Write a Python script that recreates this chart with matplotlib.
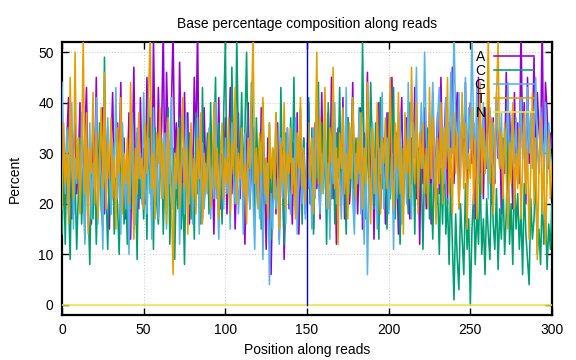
import matplotlib
matplotlib.use("Agg")
import matplotlib.pyplot as plt
import numpy as np

A_pct = [38, 27, 19, 33, 41, 24, 17, 30, 36, 22,
         28, 40, 18, 25, 34, 43, 21, 29, 16, 37,
         26, 45, 20, 31, 23, 39, 18, 27, 35, 15,
         30, 42, 24, 19, 36, 28, 44, 21, 33, 17,
         25, 38, 13, 29, 47, 22, 34, 19, 41, 26,
         31, 20, 45, 27, 37, 18, 53, 30, 24, 43,
         28, 35, 55, 21, 46, 33, 25, 40, 54, 29,
         36, 22, 48, 31, 19, 42, 27, 38, 16, 33,
         24, 45, 30, 55, 21, 34, 17, 39, 26, 31,
         20, 36, 28, 14, 33, 25, 41, 19, 30, 23,
         37, 18, 29, 43, 22, 32, 15, 27, 38, 21,
         34, 26, 12, 31, 40, 19, 28, 35, 17, 25,
         30, 22, 39, 16, 27, 11, 33, 20, 6, 24,
         29, 18, 36, 13, 26, 31, 9, 23, 35, 19,
         28, 16, 32, 24, 38, 14, 27, 21, 33, 18,
         25, 40, 20, 30, 15, 36, 23, 28, 17, 42,
         26, 33, 19, 38, 24, 45, 21, 31, 12, 35,
         28, 22, 41, 17, 30, 37, 20, 26, 44, 23,
         32, 18, 29, 39, 15, 34, 25, 46, 21, 28,
         36, 13, 31, 24, 40, 19, 27, 33, 16, 38,
         22, 30, 45, 18, 35, 26, 14, 32, 41, 20,
         29, 37, 23, 17, 33, 27, 43, 21, 31, 12,
         36, 24, 39, 19, 28, 34, 16, 42, 25, 30,
         38, 22, 45, 27, 33, 41, 20, 36, 29, 47,
         24, 35, 42, 19, 31, 38, 26, 44, 22, 33,
         40, 28, 36, 17, 30, 45, 25, 34, 21, 39,
         27, 43, 31, 20, 37, 24, 41, 29, 35, 18,
         33, 26, 46, 22, 38, 30, 19, 42, 27, 36,
         24, 55, 31, 40, 20, 45, 28, 37, 33, 49,
         26, 42, 35, 30, 56, 23, 44, 38, 27, 34,
         31]

C_pct = [14, 28, 12, 35, 21, 9, 30, 18, 25, 11,
         22, 33, 16, 27, 13, 31, 20, 8, 26, 17,
         29, 12, 24, 36, 19, 15, 49, 22, 11, 28,
         18, 31, 14, 25, 20, 10, 27, 34, 16, 23,
         12, 29, 19, 38, 15, 24, 9, 32, 21, 26,
         17, 30, 13, 41, 22, 27, 11, 35, 20, 16,
         25, 33, 14, 28, 18, 39, 12, 23, 31, 9,
         26, 19, 37, 15, 24, 8, 30, 21, 34, 17,
         27, 13, 38, 22, 29, 16, 43, 20, 25, 34,
         18, 40, 24, 31, 45, 21, 36, 27, 16, 38,
         52, 25, 33, 19, 47, 29, 22, 53, 31, 26,
         42, 24, 35, 50, 28, 20, 44, 31, 18, 37,
         26, 33, 15, 40, 24, 29, 19, 36, 13, 31,
         22, 38, 27, 17, 43, 25, 12, 34, 29, 20,
         37, 24, 45, 18, 31, 27, 39, 16, 33, 22,
         28, 41, 20, 35, 14, 30, 25, 44, 19, 36,
         23, 32, 12, 40, 27, 21, 38, 16, 34, 25,
         43, 20, 31, 26, 14, 37, 22, 29, 41, 18,
         33, 25, 39, 21, 52, 28, 17, 35, 24, 44,
         30, 19, 36, 26, 13, 41, 23, 32, 27, 15,
         38, 21, 29, 43, 17, 34, 25, 12, 31, 22,
         36, 27, 18, 40, 24, 30, 14, 37, 20, 33,
         26, 11, 29, 22, 35, 17, 24, 13, 28, 19,
         23, 10, 27, 16, 32, 14, 21, 8, 25, 12,
         1, 18, 9, 3, 20, 13, 6, 24, 11, 17,
         0, 15, 22, 8, 19, 12, 26, 10, 17, 6,
         21, 14, 9, 28, 16, 11, 23, 7, 19, 13,
         25, 10, 18, 34, 12, 20, 8, 27, 15, 22,
         11, 19, 6, 24, 14, 9, 4, 21, 13, 17,
         26, 10, 15, 8, 22, 12, 19, 7, 16, 11,
         20]

G_pct = [44, 30, 22, 35, 18, 27, 40, 15, 29, 24,
         33, 19, 38, 26, 12, 31, 21, 36, 17, 28,
         23, 41, 16, 30, 25, 11, 34, 20, 37, 27,
         18, 32, 24, 43, 21, 29, 14, 36, 26, 19,
         31, 10, 27, 38, 22, 16, 35, 25, 30, 20,
         42, 24, 18, 33, 27, 13, 39, 22, 29, 17,
         36, 26, 21, 34, 15, 30, 24, 41, 19, 28,
         23, 35, 12, 27, 31, 18, 38, 25, 20, 33,
         16, 29, 24, 37, 14, 26, 32, 19, 28, 22,
         35, 17, 27, 21, 40, 24, 13, 30, 25, 19,
         33, 22, 28, 15, 36, 26, 20, 31, 18, 25,
         29, 14, 34, 23, 27, 19, 38, 21, 11, 30,
         24, 17, 32, 9, 26, 20, 28, 4, 22, 15,
         30, 19, 25, 12, 33, 21, 27, 16, 35, 22,
         18, 29, 24, 37, 14, 26, 31, 20, 28, 17,
         32, 23, 27, 15, 35, 21, 39, 25, 18, 30,
         22, 36, 19, 28, 13, 33, 24, 40, 20, 29,
         26, 17, 31, 23, 43, 19, 28, 35, 21, 14,
         30, 24, 38, 18, 27, 12, 33, 6, 25, 20,
         36, 22, 29, 15, 31, 26, 42, 19, 27, 33,
         18, 24, 30, 11, 35, 21, 28, 38, 16, 26,
         32, 20, 44, 25, 17, 36, 29, 47, 23, 31,
         40, 27, 50, 34, 22, 38, 29, 44, 31, 25,
         37, 43, 28, 35, 24, 41, 32, 27, 46, 30,
         55, 36, 29, 42, 25, 38, 33, 45, 27, 39,
         31, 53, 35, 28, 43, 24, 37, 30, 40, 26,
         34, 21, 39, 29, 36, 25, 42, 31, 27, 38,
         23, 35, 30, 44, 26, 33, 39, 28, 37, 24,
         32, 41, 29, 36, 25, 43, 30, 38, 27, 34,
         45, 31, 26, 39, 33, 28, 40, 24, 36, 30,
         27]

T_pct = [19, 36, 24, 30, 16, 45, 27, 21, 50, 25,
         33, 18, 29, 53, 22, 38, 14, 31, 26, 42,
         20, 34, 17, 28, 39, 23, 46, 19, 32, 25,
         37, 21, 29, 15, 35, 26, 41, 18, 30, 24,
         33, 20, 44, 27, 13, 31, 22, 38, 25, 29,
         19, 36, 26, 42, 53, 23, 30, 17, 34, 28,
         39, 21, 32, 25, 16, 37, 27, 22, 6, 30,
         24, 35, 19, 28, 41, 23, 31, 14, 27, 36,
         21, 29, 18, 33, 25, 38, 16, 30, 22, 27,
         34, 19, 26, 40, 23, 31, 17, 28, 36, 21,
         29, 24, 37, 18, 32, 26, 43, 20, 30, 25,
         35, 22, 28, 16, 33, 27, 39, 53, 24, 31,
         19, 34, 26, 41, 22, 29, 17, 36, 25, 31,
         21, 38, 27, 15, 32, 24, 40, 19, 30, 26,
         35, 22, 29, 17, 34, 27, 41, 23, 31, 20,
         28, 36, 25, 33, 18, 30, 50, 24, 37, 22,
         29, 43, 26, 19, 35, 28, 47, 23, 31, 12,
         34, 27, 39, 22, 30, 17, 36, 25, 41, 28,
         21, 33, 26, 38, 19, 31, 24, 44, 27, 16,
         35, 29, 22, 40, 26, 18, 33, 28, 37, 23,
         30, 45, 25, 19, 36, 27, 42, 22, 31, 14,
         38, 26, 33, 21, 47, 29, 24, 40, 18, 34,
         27, 36, 22, 31, 19, 43, 25, 37, 28, 16,
         33, 24, 40, 20, 35, 27, 45, 22, 31, 18,
         38, 26, 34, 19, 29, 42, 23, 36, 15, 30,
         25, 39, 20, 33, 17, 28, 44, 22, 35, 26,
         31, 53, 24, 37, 18, 29, 41, 52, 27, 34,
         21, 36, 26, 15, 32, 24, 40, 19, 30, 23,
         35, 17, 28, 38, 22, 31, 13, 27, 42, 20,
         33, 9, 26, 37, 18, 30, 12, 25, 34, 21,
         28]

N_pct = [0] * 301

series_names = ["A", "C", "G", "T", "N"]
series_colors = ["#9400d3", "#009e73", "#56b4e9", "#e69f00", "#f0e442"]
read_split = 150

xticks = [0, 50, 100, 150, 200, 250, 300]
yticks = [0, 10, 20, 30, 40, 50]

plt.rcParams['font.family'] = ['Liberation Sans', 'DejaVu Sans']
plt.rcParams['font.size'] = 10

fig = plt.figure(figsize=(5.76, 3.6), dpi=100)
ax = fig.add_axes([62/576, 1-315/360, (552-62)/576, (315-42)/360])

data = [A_pct, C_pct, G_pct, T_pct, N_pct]
for name, vals, col in zip(series_names, data, series_colors):
    x = np.arange(len(vals))
    ax.plot(x, vals, color=col, lw=1.15, label=name, zorder=3)

ax.plot([read_split, read_split], [0, 52], color="#0000ff", lw=1.0, zorder=4)

ax.set_xlim(0, 300)
ax.set_ylim(-2, 52)
ax.set_xticks(xticks)
ax.set_yticks(yticks)
ax.grid(True, color="#c8c8c8", linestyle=(0, (1, 2)), lw=0.7, zorder=0)
ax.tick_params(direction="in", length=5, width=1, top=True, right=True, pad=6)
for s in ax.spines.values():
    s.set_linewidth(1.6)

ax.set_title("Base percentage composition along reads", fontsize=10, pad=10)
ax.set_xlabel("Position along reads", labelpad=4)
ax.set_ylabel("Percent", labelpad=12)

leg = ax.legend(loc="upper right", bbox_to_anchor=(534/576, 1-50/360),
                bbox_transform=fig.transFigure, frameon=False, markerfirst=False,
                handlelength=2.9, handletextpad=0.6, labelspacing=0.0,
                borderpad=0, borderaxespad=0)
leg.set_zorder(5)

fig.savefig("out.png", dpi=100)
